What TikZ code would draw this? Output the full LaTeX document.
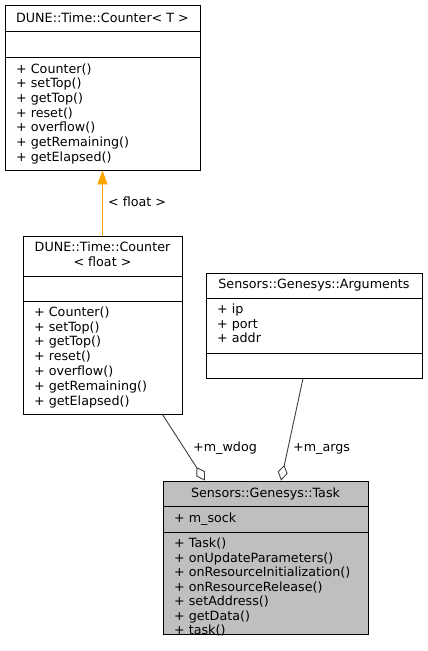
\documentclass[tikz,border=0pt]{standalone}
\usepackage{fontspec}
\setmainfont{DejaVu Sans}
\usetikzlibrary{arrows.meta}
\definecolor{edgegray}{HTML}{404040}
\definecolor{taskgray}{HTML}{BFBFBF}
\definecolor{inheritorange}{HTML}{FFA500}

\begin{document}
\begin{tikzpicture}[x=1pt,y=-1pt,
    classbox/.style={draw=black, line width=0.9pt, inner sep=0pt, rectangle},
    member/.style={anchor=west, inner sep=0pt, text height=9.5pt, text depth=0.5pt,
      font=\fontsize{12.7}{14.7}\selectfont},
    classtitle/.style={anchor=center, inner sep=0pt, align=center,
      font=\fontsize{12.7}{15}\selectfont},
    sepline/.style={line width=0.9pt, black}]
        \useasboundingbox (0,0) rectangle (428,651);
        % class boxes
        \node[classbox, minimum width=195pt, minimum height=165pt] (ctrT) at (102.5,87.5) {};
        \node[classbox, minimum width=159pt, minimum height=178pt] (ctrF) at (102.5,325) {};
        \node[classbox, minimum width=216pt, minimum height=105pt] (args) at (314,325.5) {};
        \node[classbox, fill=taskgray, minimum width=205pt, minimum height=153pt] (task) at (265.5,557.5) {};
        % compartments
        \draw[sepline] (ctrT.west |- 0,31) -- (ctrT.east |- 0,31);
        \draw[sepline] (ctrT.west |- 0,57) -- (ctrT.east |- 0,57);
        \draw[sepline] (ctrF.west |- 0,276) -- (ctrF.east |- 0,276);
        \draw[sepline] (ctrF.west |- 0,301) -- (ctrF.east |- 0,301);
        \draw[sepline] (args.west |- 0,298) -- (args.east |- 0,298);
        \draw[sepline] (args.west |- 0,353) -- (args.east |- 0,353);
        \draw[sepline] (task.west |- 0,506) -- (task.east |- 0,506);
        \draw[sepline] (task.west |- 0,532) -- (task.east |- 0,532);
        % titles
        \node[classtitle] (ctrTtitle) at (102.5,18) {DUNE::Time::Counter< T >};
        \node[classtitle] (ctrFtitle) at (102.5,254.5) {DUNE::Time::Counter\\< float >};
        \node[classtitle] (argstitle) at (314,285.5) {Sensors::Genesys::Arguments};
        \node[classtitle] (tasktitle) at (265.5,493.5) {Sensors::Genesys::Task};
        % members
        \foreach \m [count=\i from 0] in {Counter(), setTop(), getTop(), reset(), overflow(), getRemaining(), getElapsed()}
        {
          \node[member] (ctrT-\i) at (16,68.5+14.7*\i) {+ \m};
          \node[member] (ctrF-\i) at (34,311.7+14.8*\i) {+ \m};
        }
        \foreach \m [count=\i from 0] in {ip, port, addr}
          \node[member] (args-\i) at (217,309+14.5*\i) {+ \m};
        \node[member] (task-a) at (174,518) {+ m\_sock};
        \foreach \m [count=\i from 0] in {Task(), onUpdateParameters(), onResourceInitialization(), onResourceRelease(), setAddress(), getData(), task()}
          \node[member] (task-\i) at (174,543+14.5*\i) {+ \m};
        % relations
        \draw[inheritorange, line width=0.9pt, -{Triangle[length=14pt,width=10pt]}] (ctrF.north) -- (ctrT.south);
        \node[member] (lblfloat) at (108,202) {< float >};
        \draw[edgegray, line width=0.9pt, -{Diamond[open,length=16pt,width=10pt]}] ([xshift=-20pt]ctrF.south east) -- ([xshift=-60.5pt]task.north);
        \node[member] (lblwdog) at (193,447) {+m\_wdog};
        \draw[edgegray, line width=0.9pt, -{Diamond[open,length=16pt,width=10pt]}] ([xshift=-11pt]args.south) -- ([xshift=15.5pt]task.north);
        \node[member] (lblargs) at (293,447) {+m\_args};
\end{tikzpicture}
\end{document}
